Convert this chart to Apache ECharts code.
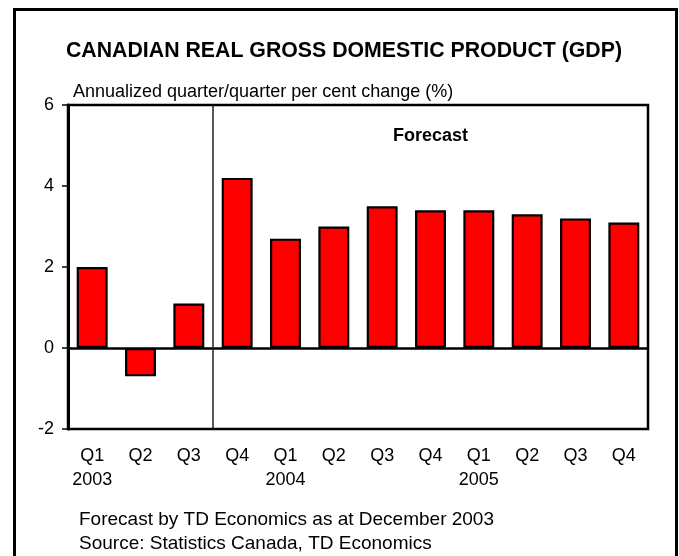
<!DOCTYPE html>
<html>
<head>
<meta charset="utf-8">
<script src="https://cdn.jsdelivr.net/npm/echarts@6/dist/echarts.min.js"></script>
<style>
html,body{margin:0;padding:0;background:#fff;}
#chart{width:679px;height:556px;}
</style>
</head>
<body>
<div id="chart"></div>
<script>
const quarters = ['Q1','Q2','Q3','Q4','Q1','Q2','Q3','Q4','Q1','Q2','Q3','Q4'];
const years = ['2003','','','','2004','','','','2005','','',''];
const gdpGrowth = [2.0, -0.7, 1.1, 4.2, 2.7, 3.0, 3.5, 3.4, 3.4, 3.3, 3.2, 3.1];
const yTicks = [-2, 0, 2, 4, 6];
const forecastStartIndex = 3;

const FONT = '"Liberation Sans", Arial, sans-serif';
const categories = quarters.map((q, i) => years[i] ? q + '\n' + years[i] : q);

const chart = echarts.init(document.getElementById('chart'), null, {renderer: 'canvas'});
chart.setOption({
  animation: false,
  backgroundColor: '#fff',
  title: {
    text: 'CANADIAN REAL GROSS DOMESTIC PRODUCT (GDP)',
    left: 339, top: 36, textAlign: 'center',
    textStyle: {fontFamily: FONT, fontSize: 21.3, fontWeight: 'bold', color: '#000'}
  },
  grid: {left: 68, top: 105, right: 31, bottom: 127, show: true, borderColor: '#000', borderWidth: 2.5},
  xAxis: [{
    type: 'category',
    data: categories,
    axisLine: {onZero: false, show: false},
    axisTick: {show: false},
    axisLabel: {
      interval: 0, margin: 15, color: '#000', fontFamily: FONT, fontSize: 18, lineHeight: 24,
      align: 'center'
    },
    splitLine: {show: false}
  }, {
    type: 'value',
    min: 0, max: quarters.length,
    show: false,
    splitLine: {show: false}
  }],
  yAxis: {
    type: 'value',
    min: yTicks[0], max: yTicks[yTicks.length - 1], interval: 2,
    axisLine: {show: true, lineStyle: {color: '#000', width: 3}},
    axisTick: {show: true, length: 6, lineStyle: {color: '#000', width: 1.5}},
    axisLabel: {color: '#000', fontFamily: FONT, fontSize: 18, margin: 14},
    splitLine: {show: false}
  },
  series: [{
    type: 'bar',
    data: gdpGrowth,
    barWidth: '64%',
    itemStyle: {color: '#ff0000', borderColor: '#000', borderWidth: 2.2},
    z: 3,
    markLine: {
      silent: true, symbol: 'none', label: {show: false},
      lineStyle: {color: '#000', width: 2.5, type: 'solid'},
      data: [{yAxis: 0}]
    }
  }, {
    type: 'line',
    xAxisIndex: 1,
    data: [],
    z: 1,
    markLine: {
      silent: true, symbol: 'none', label: {show: false},
      lineStyle: {color: '#222', width: 1.5, type: 'solid'},
      data: [{xAxis: forecastStartIndex}]
    }
  }],
  graphic: [
    {type: 'rect', shape: {x: 14.5, y: 9.5, width: 662, height: 620}, style: {fill: null, stroke: '#000', lineWidth: 3}, z: 100},
    {type: 'text', left: 73, top: 83, style: {text: 'Annualized quarter/quarter per cent change (%)', font: '18px ' + FONT, fill: '#000'}},
    {type: 'text', x: 430.5, y: 136.5, style: {text: 'Forecast', font: 'bold 18px ' + FONT, fill: '#000', align: 'center', verticalAlign: 'middle'}},
    {type: 'text', x: 79, y: 520, style: {text: 'Forecast by TD Economics as at December 2003', font: '19px ' + FONT, fill: '#000', verticalAlign: 'middle'}},
    {type: 'text', x: 79, y: 544, style: {text: 'Source: Statistics Canada, TD Economics', font: '19px ' + FONT, fill: '#000', verticalAlign: 'middle'}}
  ]
});
</script>
</body>
</html>
